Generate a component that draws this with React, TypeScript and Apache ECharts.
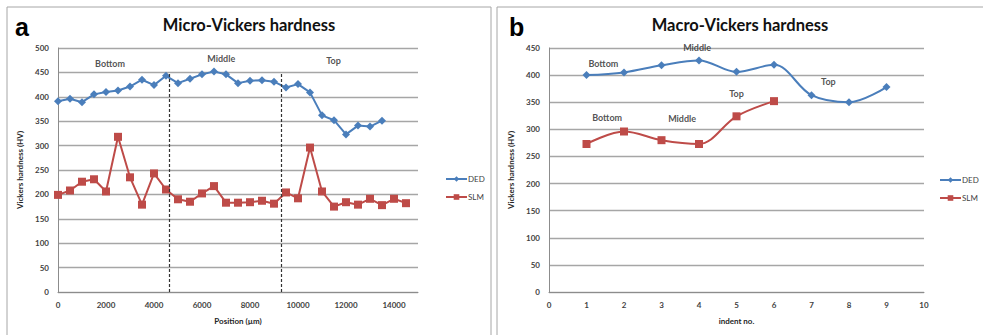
import React, { useEffect, useRef } from "react";
import * as echarts from "echarts";

// ---------- Data ----------
// Panel a: Micro-Vickers hardness vs position (µm)
const microDedPositions = [0, 500, 1000, 1500, 2000, 2500, 3000, 3500, 4000, 4500, 5000, 5500, 6000, 6500, 7000, 7500, 8000, 8500, 9000, 9500, 10000, 10500, 11000, 11500, 12000, 12500, 13000, 13500];
const microDedValues = [391, 396, 389, 405, 410, 413, 421, 435, 424, 443, 428, 437, 446, 452, 446, 428, 433, 434, 431, 419, 426, 409, 362, 352, 323, 341, 339, 351];
const microSlmPositions = [0, 500, 1000, 1500, 2000, 2500, 3000, 3500, 4000, 4500, 5000, 5500, 6000, 6500, 7000, 7500, 8000, 8500, 9000, 9500, 10000, 10500, 11000, 11500, 12000, 12500, 13000, 13500, 14000, 14500];
const microSlmValues = [199, 208, 226, 231, 206, 318, 235, 179, 243, 210, 190, 185, 202, 217, 183, 183, 184, 187, 181, 204, 192, 296, 206, 175, 184, 179, 191, 178, 191, 182];
const microZoneBoundaries = [4650, 9300];
const microZoneTop = 450;
const microZoneNames = ["Bottom", "Middle", "Top"];
const microZoneLabelX = [2170, 6800, 11480];
const microZoneLabelY = [468, 478, 475];

// Panel b: Macro-Vickers hardness vs indent no.
const macroDedIndents = [1, 2, 3, 4, 5, 6, 7, 8, 9];
const macroDedValues = [400, 405, 418, 427, 406, 419, 363, 350, 378];
const macroSlmIndents = [1, 2, 3, 4, 5, 6];
const macroSlmValues = [273, 296, 280, 273, 324, 352];
const macroDedLabelNames = ["Bottom", "Middle", "Top"];
const macroDedLabelX = [1.45, 3.95, 7.45];
const macroDedLabelY = [422, 451, 389];
const macroSlmLabelNames = ["Bottom", "Middle", "Top"];
const macroSlmLabelX = [1.55, 3.55, 5.0];
const macroSlmLabelY = [322, 320, 366];

const seriesNames = ["DED", "SLM"];
const titles = ["Micro-Vickers hardness", "Macro-Vickers hardness"];
const panelLetters = ["a", "b"];
const xAxisNames = ["Position (µm)", "indent no."];
const yAxisName = "Vickers hardness (HV)";

const BLUE = "#4a7ebb";
const RED = "#be4b48";
const FONT = "Lato, 'Open Sans', sans-serif";
const TICK_COLOR = "#3f3f3f";

export default function App() {
  const ref = useRef<HTMLDivElement>(null);

  useEffect(() => {
    if (!ref.current) return;
    const chart = echarts.init(ref.current, undefined, { renderer: "svg" });

    const zip = (xs: number[], ys: number[]) => xs.map((x, i) => [x, ys[i]]);
    const labelData = (names: string[], xs: number[], ys: number[]) =>
      names.map((n, i) => ({ name: n, value: [xs[i], ys[i]] }));

    const axisLabelStyle = { fontFamily: FONT, fontSize: 8, color: TICK_COLOR, fontWeight: "bold" as const };

    const annotationSeries = (xi: number, data: any[]) => ({
      type: "scatter",
      xAxisIndex: xi,
      yAxisIndex: xi,
      symbolSize: 0,
      clip: false,
      silent: true,
      data,
      label: {
        show: true,
        position: "inside",
        formatter: "{b}",
        fontFamily: FONT,
        fontSize: 9,
        fontWeight: "bold",
        color: "#262626",
      },
      z: 5,
    });

    const legendCommon = {
      orient: "vertical",
      itemWidth: 21,
      itemHeight: 7,
      itemGap: 10,
      padding: 0,
      textStyle: { fontFamily: FONT, fontSize: 8, color: TICK_COLOR, padding: [0, 0, 0, -4] },
      selectedMode: false,
    };

    const option: any = {
      animation: false,
      backgroundColor: "#ffffff",
      textStyle: { fontFamily: FONT },
      graphic: [
        { type: "rect", shape: { x: 7, y: 7, width: 484, height: 340 }, style: { fill: "none", stroke: "#a6a6a6", lineWidth: 1 }, silent: true },
        { type: "rect", shape: { x: 497, y: 7, width: 500, height: 340 }, style: { fill: "none", stroke: "#a6a6a6", lineWidth: 1 }, silent: true },
        { type: "text", left: 15, top: 14, style: { text: panelLetters[0], font: "bold 25px 'Liberation Sans', Arial, sans-serif", fill: "#000" } },
        { type: "text", left: 509, top: 14, style: { text: panelLetters[1], font: "bold 25px 'Liberation Sans', Arial, sans-serif", fill: "#000" } },
        { type: "text", x: 249, y: 25, style: { text: titles[0], font: `bold 16.5px ${FONT}`, fill: "#111", align: "center", verticalAlign: "middle" } },
        { type: "text", x: 740, y: 25, style: { text: titles[1], font: `bold 16.5px ${FONT}`, fill: "#111", align: "center", verticalAlign: "middle" } },
      ],
      legend: [
        { ...legendCommon, left: 445, top: 175, data: seriesNames },
        { ...legendCommon, left: 939, top: 176, data: seriesNames.map((n) => n + " ") },
      ],
      grid: [
        { left: 58, top: 48, width: 360, height: 244 },
        { left: 549, top: 48, width: 375, height: 244 },
      ],
      xAxis: [
        {
          type: "value",
          gridIndex: 0,
          min: 0,
          max: 15000,
          interval: 2000,
          name: xAxisNames[0],
          nameLocation: "middle",
          nameGap: 25,
          nameTextStyle: { fontFamily: FONT, fontSize: 8, fontWeight: "bold", color: "#262626" },
          axisLine: { show: true, lineStyle: { color: "#8c8c8c", width: 1 } },
          axisTick: { show: false },
          splitLine: { show: false },
          axisLabel: { ...axisLabelStyle, margin: 9, showMaxLabel: false, formatter: (v: number) => String(v) },
        },
        {
          type: "value",
          gridIndex: 1,
          min: 0,
          max: 10,
          interval: 1,
          name: xAxisNames[1],
          nameLocation: "middle",
          nameGap: 25,
          nameTextStyle: { fontFamily: FONT, fontSize: 8, fontWeight: "bold", color: "#262626" },
          axisLine: { show: true, lineStyle: { color: "#8c8c8c", width: 1 } },
          axisTick: { show: false },
          splitLine: { show: false },
          axisLabel: { ...axisLabelStyle, margin: 9 },
        },
      ],
      yAxis: [
        {
          type: "value",
          gridIndex: 0,
          min: 0,
          max: 500,
          interval: 50,
          name: yAxisName,
          nameLocation: "middle",
          nameGap: 34,
          nameTextStyle: { fontFamily: FONT, fontSize: 8, color: "#262626", fontWeight: "bold" },
          axisLine: { show: true, lineStyle: { color: "#8c8c8c", width: 1 } },
          axisTick: { show: false },
          splitLine: { show: true, lineStyle: { color: "#a6a6a6", width: 1.3 } },
          axisLabel: { ...axisLabelStyle, margin: 9 },
        },
        {
          type: "value",
          gridIndex: 1,
          min: 0,
          max: 450,
          interval: 50,
          name: yAxisName,
          nameLocation: "middle",
          nameGap: 34,
          nameTextStyle: { fontFamily: FONT, fontSize: 8, color: "#262626", fontWeight: "bold" },
          axisLine: { show: true, lineStyle: { color: "#8c8c8c", width: 1 } },
          axisTick: { show: false },
          splitLine: { show: true, lineStyle: { color: "#a6a6a6", width: 1.3 } },
          axisLabel: { ...axisLabelStyle, margin: 9 },
        },
      ],
      series: [
        {
          name: seriesNames[0],
          type: "line",
          xAxisIndex: 0,
          yAxisIndex: 0,
          data: zip(microDedPositions, microDedValues),
          symbol: "diamond",
          symbolSize: 8,
          itemStyle: { color: BLUE },
          lineStyle: { color: BLUE, width: 2 },
          z: 3,
          markLine: {
            silent: true,
            symbol: "none",
            label: { show: false },
            lineStyle: { color: "#333", type: [3, 2], width: 1.2 },
            data: microZoneBoundaries.map((b) => [
              { coord: [b, 0] },
              { coord: [b, microZoneTop] },
            ]),
          },
        },
        {
          name: seriesNames[1],
          type: "line",
          xAxisIndex: 0,
          yAxisIndex: 0,
          data: zip(microSlmPositions, microSlmValues),
          symbol: "rect",
          symbolSize: 8,
          itemStyle: { color: RED },
          lineStyle: { color: RED, width: 2 },
          z: 3,
        },
        annotationSeries(0, labelData(microZoneNames, microZoneLabelX, microZoneLabelY)),
        {
          name: seriesNames[0] + " ",
          type: "line",
          xAxisIndex: 1,
          yAxisIndex: 1,
          smooth: 0.35,
          data: zip(macroDedIndents, macroDedValues),
          symbol: "diamond",
          symbolSize: 8,
          itemStyle: { color: BLUE },
          lineStyle: { color: BLUE, width: 2 },
          z: 3,
        },
        {
          name: seriesNames[1] + " ",
          type: "line",
          xAxisIndex: 1,
          yAxisIndex: 1,
          smooth: 0.35,
          data: zip(macroSlmIndents, macroSlmValues),
          symbol: "rect",
          symbolSize: 8,
          itemStyle: { color: RED },
          lineStyle: { color: RED, width: 2 },
          z: 3,
        },
        annotationSeries(1, labelData(macroDedLabelNames, macroDedLabelX, macroDedLabelY)),
        annotationSeries(1, labelData(macroSlmLabelNames, macroSlmLabelX, macroSlmLabelY)),
      ],
    };

    chart.setOption(option);
    return () => chart.dispose();
  }, []);

  return (
    <div
      ref={ref}
      style={{ position: "absolute", left: 0, top: 0, width: 983, height: 335, background: "#fff" }}
    />
  );
}
